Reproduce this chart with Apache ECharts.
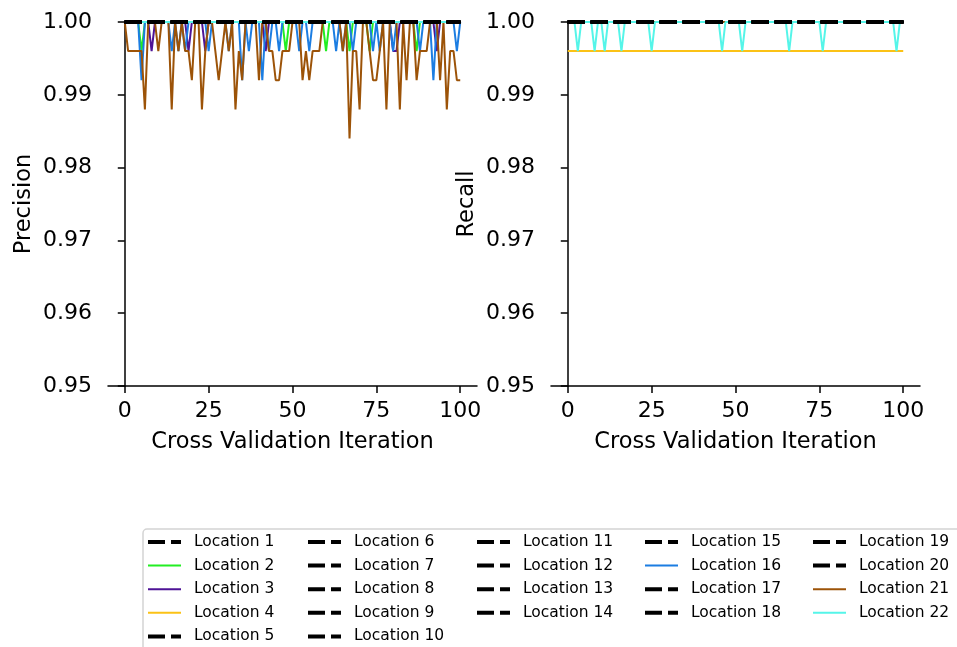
<!DOCTYPE html>
<html>
<head>
<meta charset="utf-8">
<script src="https://cdn.jsdelivr.net/npm/echarts@6/dist/echarts.min.js"></script>
<style>
html,body{margin:0;padding:0;background:#fff;}
#chart{width:957px;height:647px;}
</style>
</head>
<body>
<div id="chart"></div>
<script>
// ---------------- data ----------------
const iterations = [
  0,1,2,3,4,5,6,7,8,9,
  10,11,12,13,14,15,16,17,18,19,
  20,21,22,23,24,25,26,27,28,29,
  30,31,32,33,34,35,36,37,38,39,
  40,41,42,43,44,45,46,47,48,49,
  50,51,52,53,54,55,56,57,58,59,
  60,61,62,63,64,65,66,67,68,69,
  70,71,72,73,74,75,76,77,78,79,
  80,81,82,83,84,85,86,87,88,89,
  90,91,92,93,94,95,96,97,98,99,
  100
];

const locations = [
  'Location 1','Location 2','Location 3','Location 4','Location 5','Location 6',
  'Location 7','Location 8','Location 9','Location 10','Location 11','Location 12',
  'Location 13','Location 14','Location 15','Location 16','Location 17','Location 18',
  'Location 19','Location 20','Location 21','Location 22'
];

// score of 1.0 at every iteration (all black dashed locations)
const perfectScore = [
  1,1,1,1,1,1,1,1,1,1,
  1,1,1,1,1,1,1,1,1,1,
  1,1,1,1,1,1,1,1,1,1,
  1,1,1,1,1,1,1,1,1,1,
  1,1,1,1,1,1,1,1,1,1,
  1,1,1,1,1,1,1,1,1,1,
  1,1,1,1,1,1,1,1,1,1,
  1,1,1,1,1,1,1,1,1,1,
  1,1,1,1,1,1,1,1,1,1,
  1,1,1,1,1,1,1,1,1,1,
  1
];

const precisionLoc2 = [
  1,1,1,1,1,0.996,1,1,1,1,
  1,1,1,1,1,1,1,1,1,1,
  1,1,1,1,1,1,1,1,1,1,
  1,1,1,1,1,1,1,1,1,1,
  1,1,1,1,1,1,1,1,0.996,1,
  1,1,1,1,1,1,1,1,1,1,
  0.996,1,1,1,1,1,1,0.996,1,1,
  1,1,1,0.996,1,1,1,1,1,1,
  1,1,1,1,1,1,1,0.996,1,1,
  1,1,1,1,1,1,1,1,1,1,
  1
];

const precisionLoc3 = [
  1,1,1,1,1,1,1,1,0.996,1,
  1,1,1,1,1,1,1,1,1,0.996,
  1,1,1,1,0.996,1,1,1,1,1,
  1,1,1,1,1,1,1,1,1,1,
  1,1,0.996,1,1,1,1,1,1,1,
  1,1,1,1,1,1,1,1,1,1,
  1,1,1,1,1,1,1,1,1,1,
  1,1,1,1,1,1,1,1,1,1,
  0.996,0.996,1,1,1,1,1,1,1,1,
  1,1,1,0.996,1,1,1,1,1,1,
  1
];

const precisionLoc16 = [
  1,1,1,1,1,0.992,1,1,1,1,
  1,1,1,1,0.996,1,0.996,1,0.996,1,
  1,1,1,1,1,0.996,1,1,1,1,
  1,0.996,1,1,1,0.992,1,0.996,1,1,
  1,0.992,1,0.996,1,1,0.996,1,1,1,
  1,1,0.996,1,1,0.996,1,1,1,1,
  1,1,1,0.996,1,0.996,1,1,0.996,1,
  1,1,1,1,0.996,1,0.996,1,1,1,
  0.996,1,1,1,1,1,1,1,0.996,1,
  1,1,0.992,1,1,1,1,1,1,0.996,
  1
];

const precisionLoc21 = [
  1,0.996,0.996,0.996,0.996,0.996,0.988,1,1,1,
  0.996,1,1,1,0.988,1,0.996,1,0.996,0.996,
  0.992,1,1,0.988,0.996,1,1,0.996,0.992,0.996,
  1,0.996,1,0.988,0.996,0.992,1,1,1,1,
  0.992,1,1,0.996,0.996,0.992,0.992,0.996,0.996,0.996,
  1,1,1,0.992,0.996,0.992,0.996,0.996,0.996,1,
  1,1,1,1,1,0.996,1,0.984,0.996,0.996,
  0.988,1,1,0.996,0.992,0.992,0.996,1,0.988,1,
  1,1,0.988,1,0.992,1,1,0.992,0.996,0.996,
  0.996,1,1,1,0.992,1,0.988,0.996,0.996,0.992,
  0.992
];

const recallLoc4 = [
  0.996,0.996,0.996,0.996,0.996,0.996,0.996,0.996,0.996,0.996,
  0.996,0.996,0.996,0.996,0.996,0.996,0.996,0.996,0.996,0.996,
  0.996,0.996,0.996,0.996,0.996,0.996,0.996,0.996,0.996,0.996,
  0.996,0.996,0.996,0.996,0.996,0.996,0.996,0.996,0.996,0.996,
  0.996,0.996,0.996,0.996,0.996,0.996,0.996,0.996,0.996,0.996,
  0.996,0.996,0.996,0.996,0.996,0.996,0.996,0.996,0.996,0.996,
  0.996,0.996,0.996,0.996,0.996,0.996,0.996,0.996,0.996,0.996,
  0.996,0.996,0.996,0.996,0.996,0.996,0.996,0.996,0.996,0.996,
  0.996,0.996,0.996,0.996,0.996,0.996,0.996,0.996,0.996,0.996,
  0.996,0.996,0.996,0.996,0.996,0.996,0.996,0.996,0.996,0.996,
  0.996
];

const recallLoc22 = [
  1,1,1,0.996,1,1,1,1,0.996,1,
  1,0.996,1,1,1,1,0.996,1,1,1,
  1,1,1,1,1,0.996,1,1,1,1,
  1,1,1,1,1,1,1,1,1,1,
  1,1,1,1,1,1,0.996,1,1,1,
  1,1,0.996,1,1,1,1,1,1,1,
  1,1,1,1,1,1,0.996,1,1,1,
  1,1,1,1,1,1,0.996,1,1,1,
  1,1,1,1,1,1,1,1,1,1,
  1,1,1,1,1,1,1,1,0.996,1,
  1
];

const xTickValues = [0, 25, 50, 75, 100];
const yTickLabels = ['0.95','0.96','0.97','0.98','0.99','1.00'];

// ---------------- mapping ----------------
const precisionByLocation = {
  'Location 2': precisionLoc2,
  'Location 3': precisionLoc3,
  'Location 16': precisionLoc16,
  'Location 21': precisionLoc21
};
const recallByLocation = {
  'Location 4': recallLoc4,
  'Location 22': recallLoc22
};
const colorByLocation = {
  'Location 2': '#22ee22',
  'Location 3': '#4e1396',
  'Location 4': '#fbc216',
  'Location 16': '#1b7de2',
  'Location 21': '#9c5308',
  'Location 22': '#55f5e9'
};

const FONT = 'DejaVu Sans';

function pairs(values) {
  return iterations.map((x, i) => [x, values[i]]);
}

const series = [];
const colored = locations.filter(n => colorByLocation[n]);
const dashed = locations.filter(n => !colorByLocation[n]);
[...colored, ...dashed].forEach(name => {
  const isColored = !!colorByLocation[name];
  const color = isColored ? colorByLocation[name] : '#000000';
  [0, 1].forEach(panel => {
    const src = panel === 0
      ? (precisionByLocation[name] || perfectScore)
      : (recallByLocation[name] || perfectScore);
    series.push({
      name: name,
      type: 'line',
      xAxisIndex: panel,
      yAxisIndex: panel,
      data: pairs(src),
      symbol: 'none',
      showSymbol: false,
      clip: false,
      color: color,
      itemStyle: { color: color },
      lineStyle: isColored
        ? { color: color, width: 2, type: 'solid' }
        : { color: color, width: 3, type: [17, 6] },
      emphasis: { disabled: true },
      z: isColored ? 2 : 3
    });
  });
});

const DASH_ICON = 'path://M0 0H17V4H0Z M23 0H33V4H23Z';
const SOLID_ICON = 'path://M0 0H33V2H0Z';

const legendColumns = [
  ['Location 1','Location 2','Location 3','Location 4','Location 5'],
  ['Location 6','Location 7','Location 8','Location 9','Location 10'],
  ['Location 11','Location 12','Location 13','Location 14'],
  ['Location 15','Location 16','Location 17','Location 18'],
  ['Location 19','Location 20','Location 21','Location 22']
];
const legendLeft = [148, 308, 477, 645, 813];

const legends = legendColumns.map((col, ci) => ({
  orient: 'vertical',
  left: legendLeft[ci],
  top: 534,
  padding: 0,
  itemWidth: 33,
  itemHeight: 16,
  itemGap: 7.6,
  selectedMode: false,
  data: col.map(n => ({ name: n, icon: colorByLocation[n] ? SOLID_ICON : DASH_ICON })),
  textStyle: { fontFamily: FONT, fontSize: 15.5, color: '#000', lineHeight: 16, padding: [0, 0, 0, 8] }
}));

function xAxisCfg(gi) {
  return {
    type: 'value',
    gridIndex: gi,
    min: -5,
    max: 105,
    name: 'Cross Validation Iteration',
    nameLocation: 'middle',
    nameGap: 45,
    nameTextStyle: { fontFamily: FONT, fontSize: 22.5, color: '#000' },
    axisLine: { show: true, onZero: false, lineStyle: { color: '#000', width: 1.5 } },
    axisTick: { show: true, length: 7, lineStyle: { color: '#000', width: 1.5 }, customValues: xTickValues },
    axisLabel: { show: true, margin: 14, fontFamily: FONT, fontSize: 22, color: '#000', customValues: xTickValues, formatter: v => String(v) },
    splitLine: { show: false }
  };
}
function yAxisCfg(gi, title) {
  return {
    type: 'value',
    gridIndex: gi,
    min: 0.95,
    max: 1.0,
    interval: 0.01,
    name: title,
    nameLocation: 'middle',
    nameRotate: 90,
    nameGap: 72,
    nameTextStyle: { fontFamily: FONT, fontSize: 22.5, color: '#000' },
    axisLine: { show: true, lineStyle: { color: '#000', width: 1.5 } },
    axisTick: { show: true, length: 7, lineStyle: { color: '#000', width: 1.5 } },
    axisLabel: {
      margin: 16, fontFamily: FONT, fontSize: 22, color: '#000',
      formatter: v => yTickLabels[Math.round((v - 0.95) * 100)] || v.toFixed(2)
    },
    splitLine: { show: false }
  };
}

const chart = echarts.init(document.getElementById('chart'), null, { renderer: 'canvas' });
chart.setOption({
  animation: false,
  backgroundColor: '#ffffff',
  grid: [
    { left: 108, top: 22, width: 369, height: 364 },
    { left: 551, top: 22, width: 369, height: 364 }
  ],
  xAxis: [xAxisCfg(0), xAxisCfg(1)],
  yAxis: [yAxisCfg(0, 'Precision'), yAxisCfg(1, 'Recall')],
  legend: legends,
  graphic: [{
    type: 'rect',
    z: 0,
    shape: { x: 143, y: 529, width: 840, height: 160, r: 4 },
    style: { fill: '#ffffff', stroke: '#d4d4d4', lineWidth: 1.5 }
  }],
  series: series
});
</script>
</body>
</html>
